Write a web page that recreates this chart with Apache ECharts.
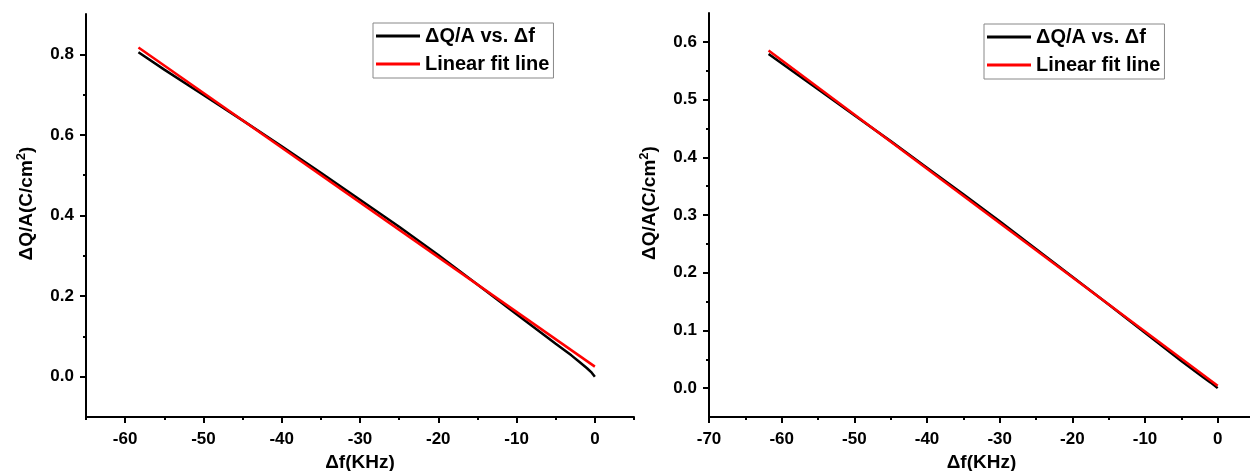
<!DOCTYPE html>
<html>
<head>
<meta charset="utf-8">
<title>dQ/A vs df</title>
<script src="https://cdn.jsdelivr.net/npm/echarts@6/dist/echarts.min.js"></script>
<style>
html, body { margin: 0; padding: 0; background: #fff; }
#chart { width: 1250px; height: 471px; }
</style>
</head>
<body>
<div id="chart"></div>
<script>
//==================== 数据 ====================
// 左图：测量曲线
var leftFreq = [-58.3, -55, -50, -45, -40, -35, -30, -25, -20, -15, -10, -5, -3, -2, -1, -0.4, 0];
var leftCharge = [0.805, 0.762, 0.699, 0.636, 0.572, 0.506, 0.439, 0.372, 0.302, 0.229, 0.155, 0.082, 0.053, 0.037, 0.021, 0.010, 0.000];
// 左图：线性拟合
var leftFitFreq = [-58.3, 0];
var leftFitCharge = [0.817, 0.025];

// 右图：测量曲线
var rightFreq = [-61.8, -55, -50, -45, -40, -35, -30, -25, -20, -15, -10, -5, -2, -1, 0];
var rightCharge = [0.579, 0.518, 0.473, 0.428, 0.382, 0.336, 0.289, 0.241, 0.193, 0.145, 0.096, 0.047, 0.019, 0.010, 0.000];
// 右图：线性拟合
var rightFitFreq = [-61.8, 0];
var rightFitCharge = [0.585, 0.004];

// 刻度
var leftXMajor = [-60, -50, -40, -30, -20, -10, 0];
var leftXMinor = [-65, -55, -45, -35, -25, -15, -5, 5];
var leftYMajor = [0.0, 0.2, 0.4, 0.6, 0.8];
var leftYMinor = [0.1, 0.3, 0.5, 0.7];
var rightXMajor = [-70, -60, -50, -40, -30, -20, -10, 0];
var rightXMinor = [-65, -55, -45, -35, -25, -15, -5, 5];
var rightYMajor = [0.0, 0.1, 0.2, 0.3, 0.4, 0.5, 0.6];
var rightYMinor = [0.05, 0.15, 0.25, 0.35, 0.45, 0.55];

var seriesName = 'ΔQ/A vs. Δf';
var fitName = 'Linear fit line';
var xTitle = 'Δf(KHz)';

//==================== 样式 ====================
var font = "'Liberation Sans', Arial, sans-serif";
var axisLineStyle = { show: true, onZero: false, lineStyle: { color: '#000', width: 2 } };
var hiddenLine = { show: false, onZero: false };

function pairs(xs, ys) {
    var out = [];
    for (var i = 0; i < xs.length; i++) {
        out.push([xs[i], ys[i]]);
    }
    return out;
}

function mainX(grid, min, max, ticks) {
    return {
        type: 'value', gridIndex: grid, position: 'bottom',
        min: min, max: max,
        name: xTitle, nameLocation: 'middle', nameGap: 35,
        nameTextStyle: { fontFamily: font, fontWeight: 'bold', fontSize: 19, color: '#000' },
        axisLine: axisLineStyle,
        axisTick: { show: true, customValues: ticks, length: 6, lineStyle: { width: 2, color: '#000' } },
        axisLabel: {
            customValues: ticks, margin: 14, color: '#000',
            fontFamily: font, fontWeight: 'bold', fontSize: 17,
            formatter: function (v) { return String(v); }
        },
        splitLine: { show: false }
    };
}

function minorX(grid, min, max, ticks) {
    return {
        type: 'value', gridIndex: grid, position: 'bottom',
        min: min, max: max,
        axisLine: hiddenLine,
        axisTick: { show: true, customValues: ticks, length: 3, lineStyle: { width: 2, color: '#000' } },
        axisLabel: { show: false },
        splitLine: { show: false }
    };
}

function mainY(grid, min, max, ticks) {
    return {
        type: 'value', gridIndex: grid, position: 'left',
        min: min, max: max,
        name: '{t|ΔQ/A(C/cm}{sup|2}{t|)}',
        nameLocation: 'middle', nameGap: 48, nameRotate: 90,
        nameTextStyle: {
            padding: [0, 0, 0, 24],
            rich: {
                t: { fontFamily: font, fontWeight: 'bold', fontSize: 19, color: '#000' },
                sup: { fontFamily: font, fontWeight: 'bold', fontSize: 13, color: '#000', padding: [0, 0, 10, 0] }
            }
        },
        axisLine: axisLineStyle,
        axisTick: { show: true, customValues: ticks, length: 6, lineStyle: { width: 2, color: '#000' } },
        axisLabel: {
            customValues: ticks, margin: 12, color: '#000',
            fontFamily: font, fontWeight: 'bold', fontSize: 17,
            formatter: function (v) { return v.toFixed(1); }
        },
        splitLine: { show: false }
    };
}

function minorY(grid, min, max, ticks) {
    return {
        type: 'value', gridIndex: grid, position: 'left',
        min: min, max: max,
        axisLine: hiddenLine,
        axisTick: { show: true, customValues: ticks, length: 3, lineStyle: { width: 2, color: '#000' } },
        axisLabel: { show: false },
        splitLine: { show: false }
    };
}

function legendAt(left, top) {
    return {
        orient: 'vertical', left: left, top: top,
        padding: [3, 4, 4, 3],
        itemWidth: 44, itemHeight: 3, itemGap: 8,
        borderColor: '#888', borderWidth: 1, borderRadius: 0,
        selectedMode: false,
        textStyle: { fontFamily: font, fontWeight: 'bold', fontSize: 20, color: '#000' },
        data: [{ name: seriesName, icon: 'rect' }, { name: fitName, icon: 'rect' }]
    };
}

function lineSeries(name, data, color, xi, yi, z) {
    return {
        name: name, type: 'line', data: data,
        xAxisIndex: xi, yAxisIndex: yi,
        showSymbol: false, smooth: false, z: z,
        lineStyle: { color: color, width: 2.5 },
        itemStyle: { color: color }
    };
}

//==================== 图表 ====================
var chart = echarts.init(document.getElementById('chart'));
var option = {
    backgroundColor: '#fff',
    animation: false,
    legend: [legendAt(373, 23), legendAt(984, 24)],
    grid: [
        { left: 86, top: 14, width: 548, height: 403, outerBoundsMode: 'none' },
        { left: 709, top: 13, width: 545, height: 404, outerBoundsMode: 'none' }
    ],
    xAxis: [
        mainX(0, -65, 5, leftXMajor),
        minorX(0, -65, 5, leftXMinor),
        mainX(1, -70, 5, rightXMajor),
        minorX(1, -70, 5, rightXMinor)
    ],
    yAxis: [
        mainY(0, -0.1, 0.9, leftYMajor),
        minorY(0, -0.1, 0.9, leftYMinor),
        mainY(1, -0.05, 0.65, rightYMajor),
        minorY(1, -0.05, 0.65, rightYMinor)
    ],
    series: [
        lineSeries(seriesName, pairs(leftFreq, leftCharge), '#000', 0, 0, 2),
        lineSeries(fitName, pairs(leftFitFreq, leftFitCharge), '#ff0000', 0, 0, 3),
        lineSeries(seriesName, pairs(rightFreq, rightCharge), '#000', 2, 2, 2),
        lineSeries(fitName, pairs(rightFitFreq, rightFitCharge), '#ff0000', 2, 2, 3)
    ]
};
chart.setOption(option);
</script>
</body>
</html>
